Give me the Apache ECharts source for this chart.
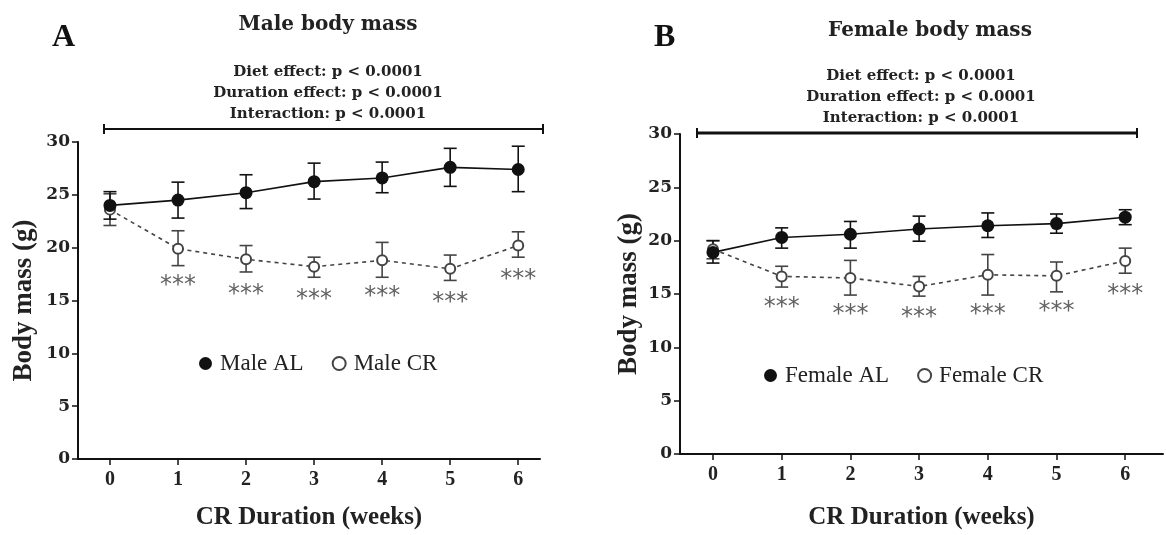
<!DOCTYPE html>
<html><head><meta charset="utf-8">
<script src="https://cdn.jsdelivr.net/npm/echarts@6/dist/echarts.min.js"></script>
<style>html,body{margin:0;padding:0;background:#fff}#c{width:1166px;height:535px}</style>
</head><body><div id="c"></div>
<script>
const weeks = [0,1,2,3,4,5,6];

const maleAL   = [24.0, 24.5, 25.2, 26.25, 26.6, 27.6, 27.4];
const maleALlo = [22.7, 22.8, 23.7, 24.6, 25.2, 25.8, 25.3];
const maleALhi = [25.3, 26.2, 26.9, 28.0, 28.1, 29.4, 29.6];
const maleCR   = [23.6, 19.9, 18.9, 18.2, 18.8, 18.0, 20.2];
const maleCRlo = [22.1, 18.3, 17.7, 17.2, 17.2, 16.9, 19.1];
const maleCRhi = [25.1, 21.6, 20.2, 19.1, 20.5, 19.3, 21.5];
const maleStars = [null, 17.2, 16.4, 15.9, 16.2, 15.65, 17.8];

const femaleAL   = [18.9, 20.3, 20.6, 21.1, 21.4, 21.6, 22.2];
const femaleALlo = [17.9, 19.3, 19.3, 19.95, 20.3, 20.7, 21.5];
const femaleALhi = [20.0, 21.2, 21.8, 22.3, 22.6, 22.5, 22.9];
const femaleCR   = [19.2, 16.65, 16.5, 15.7, 16.8, 16.7, 18.1];
const femaleCRlo = [18.3, 15.65, 14.9, 14.8, 14.9, 15.2, 16.95];
const femaleCRhi = [20.0, 17.6, 18.15, 16.65, 18.7, 18.0, 19.3];
const femaleStars = [null, 14.6, 13.9, 13.6, 13.9, 14.2, 15.75];

const statLines = ['Diet effect: p < 0.0001', 'Duration effect: p < 0.0001', 'Interaction: p < 0.0001'];

const SERIF = '"Liberation Serif", "DejaVu Serif", serif';
const WIDE = '"DejaVu Serif", serif';
const chart = echarts.init(document.getElementById('c'), null, {renderer:'canvas'});

function pairs(vals){ return weeks.map((w,i)=>[w, vals[i]]); }
function errData(lo, hi){ return weeks.map((w,i)=>[w, lo[i], hi[i]]); }
function errSeries(idx, lo, hi, color){
  return {
    type:'custom', xAxisIndex:idx, yAxisIndex:idx, data: errData(lo,hi), z:3, silent:true,
    encode:{x:0, y:[1,2]},
    renderItem(params, api){
      const x = api.value(0);
      const a = api.coord([x, api.value(2)]);
      const b = api.coord([x, api.value(1)]);
      const w = 6.5;
      const st = {stroke:color, lineWidth:1.6};
      return {type:'group', children:[
        {type:'line', shape:{x1:a[0], y1:a[1], x2:b[0], y2:b[1]}, style:st},
        {type:'line', shape:{x1:a[0]-w, y1:a[1], x2:a[0]+w, y2:a[1]}, style:st},
        {type:'line', shape:{x1:b[0]-w, y1:b[1], x2:b[0]+w, y2:b[1]}, style:st}
      ]};
    }
  };
}
function starSeries(idx, stars){
  return {
    type:'scatter', xAxisIndex:idx, yAxisIndex:idx, symbolSize:1, itemStyle:{color:'rgba(0,0,0,0)'},
    data: weeks.map((w,i)=>stars[i]==null?null:[w, stars[i]]).filter(d=>d),
    label:{show:true, position:'inside', offset:[0,9], formatter:'***', fontFamily:'"DejaVu Sans", sans-serif', fontSize:24, color:'#3a3a3a'},
    silent:true, z:2
  };
}
function xAxis(idx, min, max, gap){
  return {type:'value', gridIndex:idx, min:min, max:max,
    axisLine:{show:true, onZero:false, lineStyle:{color:'#111', width:2}},
    axisTick:{show:true, customValues:weeks, length:6, lineStyle:{color:'#111', width:1.5}},
    axisLabel:{customValues:weeks, fontFamily:SERIF, fontWeight:'bold', fontSize:20, color:'#222', margin:11},
    splitLine:{show:false},
    name:'CR Duration (weeks)', nameLocation:'middle', nameGap:gap,
    nameTextStyle:{fontFamily:SERIF, fontWeight:'bold', fontSize:25, color:'#222'}
  };
}
function yAxis(idx, gap){
  return {type:'value', gridIndex:idx, min:0, max:30, interval:5,
    axisLine:{show:true, onZero:false, lineStyle:{color:'#111', width:2}},
    axisTick:{show:true, length:6, lineStyle:{color:'#111', width:1.5}},
    axisLabel:{fontFamily:WIDE, fontWeight:'bold', fontSize:17, color:'#222', margin:8},
    splitLine:{show:false},
    name:'Body mass (g)', nameLocation:'middle', nameGap:gap, nameRotate:90,
    nameTextStyle:{fontFamily:SERIF, fontWeight:'bold', fontSize:27, color:'#222'}
  };
}
function lineSeries(idx, name, vals, filled){
  return {
    type:'line', name:name, xAxisIndex:idx, yAxisIndex:idx, data:pairs(vals),
    symbol: filled ? 'circle' : 'emptyCircle', symbolSize: filled ? 13 : 10,
    z: filled ? 5 : 4,
    lineStyle: filled ? {color:'#111', width:1.6} : {color:'#444', width:1.6, type:[4,4]},
    itemStyle: filled ? {color:'#111'} : {color:'#444', borderColor:'#444', borderWidth:1.4},
    silent:true
  };
}
function textLines(cx, y0, gap){
  return statLines.map((t,i)=>({type:'text', x:cx, y:y0+i*gap,
    style:{text:t, fill:'#222', font:'bold 15px ' + WIDE, textAlign:'center', textVerticalAlign:'middle'}}));
}
function bracket(x1, x2, y, lw){
  return [
    {type:'line', shape:{x1:x1, y1:y, x2:x2, y2:y}, style:{stroke:'#111', lineWidth:lw}},
    {type:'line', shape:{x1:x1, y1:y-5, x2:x1, y2:y+5}, style:{stroke:'#111', lineWidth:2}},
    {type:'line', shape:{x1:x2, y1:y-5, x2:x2, y2:y+5}, style:{stroke:'#111', lineWidth:2}}
  ];
}
const legText = {fontFamily:SERIF, fontSize:23, color:'#222', padding:[0,0,0,3]};

const option = {
  animation:false,
  backgroundColor:'#fff',
  grid:[
    {left:78, right:626, top:142, bottom:73},
    {left:680, right:3, top:134, bottom:81}
  ],
  xAxis:[xAxis(0, -0.47, 6.32, 46), xAxis(1, -0.48, 6.55, 51)],
  yAxis:[yAxis(0, 40), yAxis(1, 37)],
  legend:[
    {data:[{name:'Male AL', icon:'circle'},{name:'Male CR', icon:'emptyCircle'}],
     left:194, top:347, itemWidth:13, itemHeight:13, itemGap:28,
     textStyle:legText},
    {data:[{name:'Female AL', icon:'circle'},{name:'Female CR', icon:'emptyCircle'}],
     left:759, top:359, itemWidth:13, itemHeight:13, itemGap:28,
     textStyle:legText}
  ],
  graphic:[
    {type:'text', x:52, y:22, style:{text:'A', fill:'#111', font:'bold 32px ' + SERIF}},
    {type:'text', x:328, y:25, style:{text:'Male body mass', fill:'#222', font:'bold 20px ' + WIDE, textAlign:'center', textVerticalAlign:'middle'}},
    {type:'text', x:654, y:22, style:{text:'B', fill:'#111', font:'bold 32px ' + SERIF}},
    {type:'text', x:930, y:31, style:{text:'Female body mass', fill:'#222', font:'bold 20px ' + WIDE, textAlign:'center', textVerticalAlign:'middle'}},
    ...textLines(328, 72, 21),
    ...textLines(921, 76, 21),
    ...bracket(104, 543, 129, 1.8),
    ...bracket(697, 1137, 133, 3)
  ],
  series:[
    errSeries(0, maleCRlo, maleCRhi, '#444'),
    lineSeries(0, 'Male CR', maleCR, false),
    errSeries(0, maleALlo, maleALhi, '#111'),
    lineSeries(0, 'Male AL', maleAL, true),
    starSeries(0, maleStars),
    errSeries(1, femaleCRlo, femaleCRhi, '#444'),
    lineSeries(1, 'Female CR', femaleCR, false),
    errSeries(1, femaleALlo, femaleALhi, '#111'),
    lineSeries(1, 'Female AL', femaleAL, true),
    starSeries(1, femaleStars)
  ]
};
chart.setOption(option);
</script></body></html>
